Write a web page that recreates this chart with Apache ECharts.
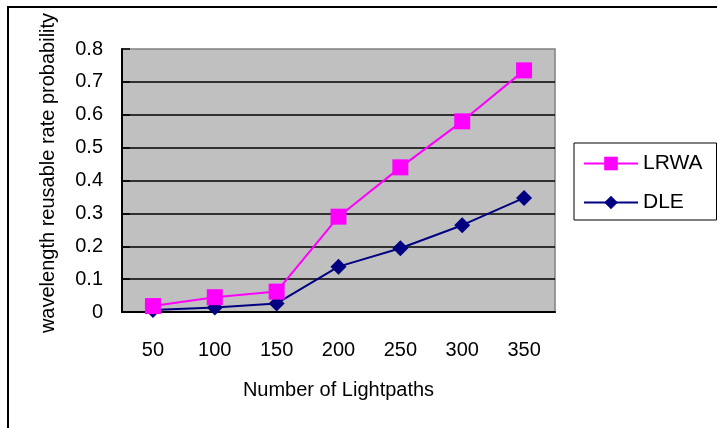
<!DOCTYPE html>
<html>
<head>
<meta charset="utf-8">
<style>
  html, body { margin: 0; padding: 0; background: #fff; }
  #chart { width: 717px; height: 428px; }
</style>
<script src="https://cdn.jsdelivr.net/npm/echarts@6/dist/echarts.min.js"></script>
</head>
<body>
<div id="chart"></div>
<script>
// Number of lightpaths on the x axis
var categories = ['50', '100', '150', '200', '250', '300', '350'];
// Wavelength reusable rate probability for each algorithm
var lrwaValues = [0.018, 0.045, 0.062, 0.29, 0.44, 0.58, 0.735];
var dleValues = [0.006, 0.014, 0.026, 0.138, 0.194, 0.264, 0.347];
// Value axis ticks
var yMin = 0, yMax = 0.8, yStep = 0.1;

var FONT = 'Liberation Sans, Arial, sans-serif';

var chart = echarts.init(document.getElementById('chart'), null, { renderer: 'canvas' });

chart.setOption({
  animation: false,
  backgroundColor: '#ffffff',
  grid: {
    left: 122, right: 162, top: 49, bottom: 116,
    show: true,
    backgroundColor: '#C0C0C0',
    borderColor: '#808080',
    borderWidth: 1.5
  },
  graphic: [
    {
      type: 'rect', z: 0, silent: true,
      shape: { x: 8, y: 7, width: 730, height: 440 },
      style: { fill: 'none', stroke: '#000', lineWidth: 2 }
    },
    {
      type: 'text', z: 10, silent: true,
      x: 48, y: 173, rotation: Math.PI / 2,
      style: {
        text: 'wavelength reusable rate probability',
        font: '20px ' + FONT, fill: '#000',
        align: 'center', verticalAlign: 'middle'
      }
    }
  ],
  legend: {
    orient: 'vertical',
    left: 574, top: 143,
    data: ['LRWA', 'DLE'],
    borderColor: '#000', borderWidth: 1,
    padding: [10, 14, 7, 9],
    itemWidth: 54, itemHeight: 17, itemGap: 18,
    textStyle: { fontFamily: FONT, fontSize: 21, color: '#000' }
  },
  xAxis: {
    type: 'category',
    data: categories,
    boundaryGap: true,
    name: 'Number of Lightpaths',
    nameLocation: 'middle',
    nameGap: 68,
    nameTextStyle: { fontFamily: FONT, fontSize: 20, color: '#000' },
    axisLine: { lineStyle: { color: '#000', width: 2 } },
    axisTick: { inside: true, length: 8, lineStyle: { color: '#000', width: 1.5 } },
    axisLabel: { margin: 28, fontFamily: FONT, fontSize: 20, color: '#000' },
    splitLine: { show: false }
  },
  yAxis: {
    type: 'value',
    min: yMin, max: yMax, interval: yStep,
    axisLine: { show: true, lineStyle: { color: '#000', width: 2 } },
    axisTick: { show: true, inside: true, length: 8, lineStyle: { color: '#000', width: 1.5 } },
    axisLabel: { margin: 19, fontFamily: FONT, fontSize: 20, color: '#000' },
    splitLine: { show: true, showMinLine: false, showMaxLine: false, lineStyle: { color: '#000', width: 1.5 } }
  },
  series: [
    {
      name: 'DLE', type: 'line', data: dleValues,
      symbol: 'diamond', symbolSize: 16,
      lineStyle: { color: '#000080', width: 2 },
      itemStyle: { color: '#000080' },
      z: 2
    },
    {
      name: 'LRWA', type: 'line', data: lrwaValues,
      symbol: 'rect', symbolSize: 16,
      lineStyle: { color: '#FF00FF', width: 2 },
      itemStyle: { color: '#FF00FF' },
      z: 3
    }
  ]
});
</script>
</body>
</html>
